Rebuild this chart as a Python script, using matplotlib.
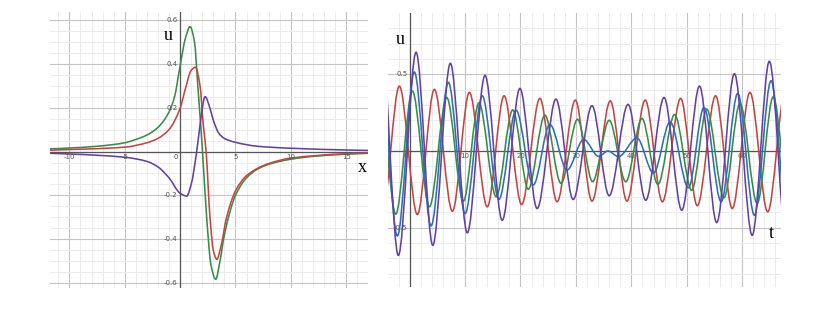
import numpy as np
import matplotlib
matplotlib.use("Agg")
import matplotlib.pyplot as plt
from matplotlib.path import Path
from matplotlib.patches import PathPatch

# ---- left panel: u(x) ----
green_x = [-11.75, -10, -8, -6, -5, -4, -3, -2, -1, -0.5, 0, 0.5, 0.9, 1.3, 1.6, 2.0, 2.4, 2.8, 3.22, 3.6, 4.0, 5, 6, 7, 8, 10, 12, 15, 17]
green_u = [0.012, 0.016, 0.022, 0.032, 0.04, 0.055, 0.075, 0.11, 0.18, 0.25, 0.39, 0.52, 0.569, 0.5, 0.3, 0.02, -0.3, -0.52, -0.582, -0.5, -0.38, -0.2, -0.12, -0.08, -0.058, -0.035, -0.022, -0.012, -0.008]

red_x = [-11.75, -5, -3, -2, -1, 0, 0.5, 1.0, 1.39, 1.8, 2.1, 2.35, 2.7, 3.0, 3.32, 3.7, 4.2, 5, 6, 8, 10, 15, 17]
red_u = [0.006, 0.02, 0.04, 0.06, 0.1, 0.197, 0.29, 0.37, 0.384, 0.3, 0.12, 0.0, -0.3, -0.45, -0.491, -0.43, -0.3, -0.18, -0.11, -0.055, -0.03, -0.01, -0.007]

purple_x = [-11.75, -10, -5, -3, -2, -1, 0, 0.6, 1.0, 1.5, 1.8, 2.26, 2.7, 3.0, 3.5, 4.0, 5, 7, 10, 15, 17]
purple_u = [-0.008, -0.011, -0.026, -0.045, -0.07, -0.12, -0.19, -0.203, -0.15, 0.0, 0.12, 0.25, 0.197, 0.143, 0.083, 0.06, 0.042, 0.024, 0.015, 0.007, 0.005]

x_ticks = [-10, -5, 0, 5, 10, 15]
u_ticks_left = [-0.6, -0.4, -0.2, 0.2, 0.4, 0.6]

# ---- right panel: u(t), peaks and troughs ----
red_t = [-5.0, -1.86, 1.39, 4.46, 7.71, 10.78, 14.0, 17.04, 20.2, 23.5, 26.6, 29.9, 32.9, 36.2, 39.2, 42.5, 45.6, 48.9, 51.9, 55.2, 58.2, 61.4, 64.6, 67.8]
red_v = [-0.43, 0.423, -0.414, 0.402, -0.393, 0.382, -0.364, 0.36, -0.349, 0.343, -0.331, 0.332, -0.327, 0.327, -0.327, 0.332, -0.331, 0.343, -0.357, 0.36, -0.375, 0.382, -0.397, 0.40]

purple_t = [-5.1, -2.04, 1.16, 4.17, 7.35, 10.4, 13.6, 16.7, 19.9, 23.0, 26.4, 29.5, 32.9, 36.0, 39.4, 42.6, 45.9, 49.1, 52.3, 55.4, 58.6, 61.8, 64.9, 68.1]
purple_v = [0.71, -0.681, 0.644, -0.615, 0.572, -0.534, 0.493, -0.452, 0.408, -0.375, 0.338, -0.316, 0.295, -0.292, 0.304, -0.321, 0.349, -0.386, 0.423, -0.467, 0.504, -0.55, 0.585, -0.63]

blue_t = [-5.3, -2.22, 0.85, 3.86, 6.99, 10.0, 13.1, 16.1, 19.2, 22.3, 25.3, 28.4, 31.4, 34.1, 35.8, 37.7, 41.0, 44.0, 47.0, 50.3, 53.1, 56.2, 59.2, 62.2, 65.2, 68.3]
blue_v = [0.58, -0.554, 0.515, -0.488, 0.448, -0.408, 0.36, -0.316, 0.266, -0.222, 0.173, -0.124, 0.075, -0.035, 0.0, -0.037, 0.085, -0.144, 0.19, -0.24, 0.284, -0.331, 0.376, -0.419, 0.458, -0.5]

green_t = [-5.5, -2.51, 0.49, 3.56, 6.69, 9.7, 12.5, 15.6, 18.6, 21.4, 24.4, 27.3, 30.3, 33.0, 36.0, 39.0, 41.9, 44.8, 47.8, 50.9, 53.6, 56.7, 59.6, 62.7, 65.6, 68.6]
green_v = [0.43, -0.412, 0.391, -0.364, 0.349, -0.327, 0.314, -0.298, 0.268, -0.249, 0.234, -0.211, 0.207, -0.2, 0.2, -0.2, 0.212, -0.218, 0.238, -0.256, 0.273, -0.305, 0.31, -0.341, 0.353, -0.38]

t_ticks = [0, 10, 20, 30, 40, 50, 60]
u_ticks_right = [-0.5, 0.5]

RED, GREEN, BLUE, PURPLE = "#c74440", "#388c46", "#2d70b3", "#6042a6"


def smooth_path(xs, ys, flat_ends=False):
    # monotone cubic through the points, handed to matplotlib as bezier segments
    xs = np.asarray(xs, float)
    ys = np.asarray(ys, float)
    h = np.diff(xs)
    d = np.diff(ys) / h
    m = np.zeros_like(xs)
    for i in range(1, len(xs) - 1):
        if d[i - 1] * d[i] > 0:
            w1 = 2 * h[i] + h[i - 1]
            w2 = h[i] + 2 * h[i - 1]
            m[i] = (w1 + w2) / (w1 / d[i - 1] + w2 / d[i])
    if not flat_ends:
        m[0], m[-1] = d[0], d[-1]
    verts = [(xs[0], ys[0])]
    codes = [Path.MOVETO]
    for i in range(len(xs) - 1):
        verts += [(xs[i] + h[i] / 3, ys[i] + m[i] * h[i] / 3),
                  (xs[i + 1] - h[i] / 3, ys[i + 1] - m[i + 1] * h[i] / 3),
                  (xs[i + 1], ys[i + 1])]
        codes += [Path.CURVE4] * 3
    return Path(verts, codes)


def desmos_grid(ax, major_x, minor_x, major_y, minor_y):
    for s in ax.spines.values():
        s.set_visible(False)
    ax.set_xticks(major_x)
    ax.set_xticks(minor_x, minor=True)
    ax.set_yticks(major_y)
    ax.set_yticks(minor_y, minor=True)
    ax.tick_params(which="both", length=0, labelbottom=False, labelleft=False)
    ax.grid(which="major", color="#c4c4c4", lw=0.8)
    ax.grid(which="minor", color="#ececec", lw=0.7)
    ax.set_axisbelow(True)
    ax.axhline(0, color="#555555", lw=0.9, zorder=1)
    ax.axvline(0, color="#555555", lw=0.9, zorder=1)


fig = plt.figure(figsize=(8.21, 3.13), dpi=100)
W, H = 821, 313

# left
ax1 = fig.add_axes([50 / W, 1 - 288 / H, (368.3 - 50) / W, (288 - 12) / H])
ax1.set_xlim(-11.75, 17.0)
ax1.set_ylim(-0.622, 0.636)
desmos_grid(ax1, np.arange(-10, 16, 5), np.arange(-11, 18, 1),
            np.arange(-0.6, 0.61, 0.2), np.arange(-0.6, 0.64, 0.05))
for xs, ys, c in [(green_x, green_u, GREEN), (red_x, red_u, RED), (purple_x, purple_u, PURPLE)]:
    ax1.add_patch(PathPatch(smooth_path(xs, ys), fill=False, edgecolor=c, lw=1.15, zorder=3))
for v in x_ticks:
    ax1.text(v if v != 0 else -0.35, -0.012, str(v),
             ha="center", va="top", fontsize=5, color="#555555")
for v in u_ticks_left:
    ax1.text(-0.25, v, f"{v:.1f}", ha="right", va="center", fontsize=5, color="#555555")
ax1.text(-1.1, 0.53, "u", family="Liberation Serif", fontsize=13, ha="center", va="center")
ax1.text(16.5, -0.075, "x", family="Liberation Serif", fontsize=13, ha="center", va="center")

# right
ax2 = fig.add_axes([388.3 / W, 1 - 286.7 / H, (781 - 388.3) / W, (286.7 - 13.3) / H])
ax2.set_xlim(-3.85, 67.0)
ax2.set_ylim(-0.885, 0.898)
desmos_grid(ax2, np.arange(0, 61, 10), np.arange(-2, 67, 2),
            [-0.5, 0, 0.5], np.arange(-0.8, 0.9, 0.1))
for ts, vs, c in [(red_t, red_v, RED), (green_t, green_v, GREEN),
                  (blue_t, blue_v, BLUE), (purple_t, purple_v, PURPLE)]:
    ax2.add_patch(PathPatch(smooth_path(ts, vs, flat_ends=True), fill=False,
                            edgecolor=c, lw=1.15, zorder=3))
for v in t_ticks:
    ax2.text(v if v != 0 else -0.7, -0.015, str(v), ha="center", va="top", fontsize=5, color="#555555")
for v in u_ticks_right:
    ax2.text(-0.4, v, f"{v}", ha="right", va="center", fontsize=5, color="#555555")
ax2.text(-1.7, 0.73, "u", family="Liberation Serif", fontsize=13, ha="center", va="center")
ax2.text(65.2, -0.54, "t", family="Liberation Serif", fontsize=13, ha="center", va="center")

fig.savefig("out.png", dpi=100, facecolor="white")
